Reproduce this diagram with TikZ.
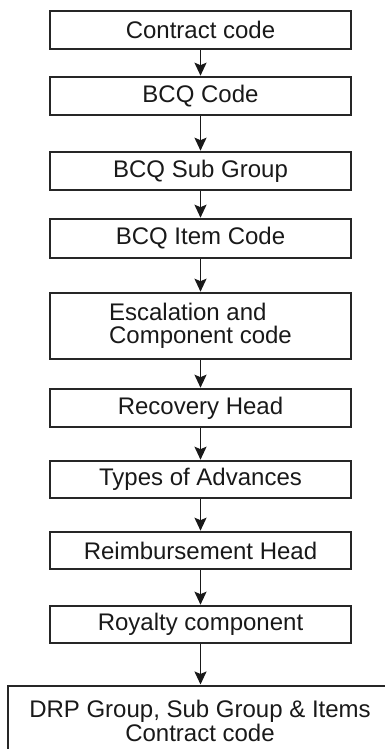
\documentclass[tikz,border=0pt]{standalone}
\usepackage{fontspec}
\setmainfont{Liberation Sans}
\usetikzlibrary{arrows.meta}
\begin{document}
\begin{tikzpicture}[x=1pt,y=-1pt,
  box/.style={draw=black!85, line width=1.6pt, rectangle, minimum width=301pt,
    inner sep=0pt, font=\fontsize{24}{23.4}\selectfont, text=black!90},
  flow/.style={draw=black!90, line width=1.8pt, -{Stealth[length=13pt,width=12pt,inset=2.5pt]}, shorten >=0.5pt}
]
\useasboundingbox (0,0) rectangle (385,749);
\clip (0,0) rectangle (385,749);
\node[box, minimum height=38pt] (b1) at (200.5,30) {Contract code};
\node[box, minimum height=38pt] (b2) at (200.5,96) {BCQ Code};
\node[box, minimum height=38pt] (b3) at (200.5,171) {BCQ Sub Group};
\node[box, minimum height=39pt] (b4) at (200.5,238.5) {BCQ Item Code};
\node[box, minimum height=66pt, align=left] (b5) at (200.5,326) {Escalation and\\Component code};
\node[box, minimum height=38pt] (b6) at (200.5,408) {Recovery Head};
\node[box, minimum height=37pt] (b7) at (200.5,479.5) {Types of Advances};
\node[box, minimum height=37pt] (b8) at (200.5,550.5) {Reimbursement Head};
\node[box, minimum height=37pt] (b9) at (200.5,624.5) {Royalty component};
\node[box, minimum width=390pt, minimum height=90pt, anchor=north west] (b10) at (7,685) {};
\node[font=\fontsize{24}{21}\selectfont, align=center, inner sep=0pt, text=black!90] (b10text) at (200,721) {DRP Group, Sub Group \& Items\\Contract code};
\draw[flow] (b1) -- (b2);
\draw[flow] (b2) -- (b3);
\draw[flow] (b3) -- (b4);
\draw[flow] (b4) -- (b5);
\draw[flow] (b5) -- (b6);
\draw[flow] (b6) -- (b7);
\draw[flow] (b7) -- (b8);
\draw[flow] (b8) -- (b9);
\draw[flow] (b9.south) -- (b9.south |- b10.north);
\end{tikzpicture}
\end{document}
